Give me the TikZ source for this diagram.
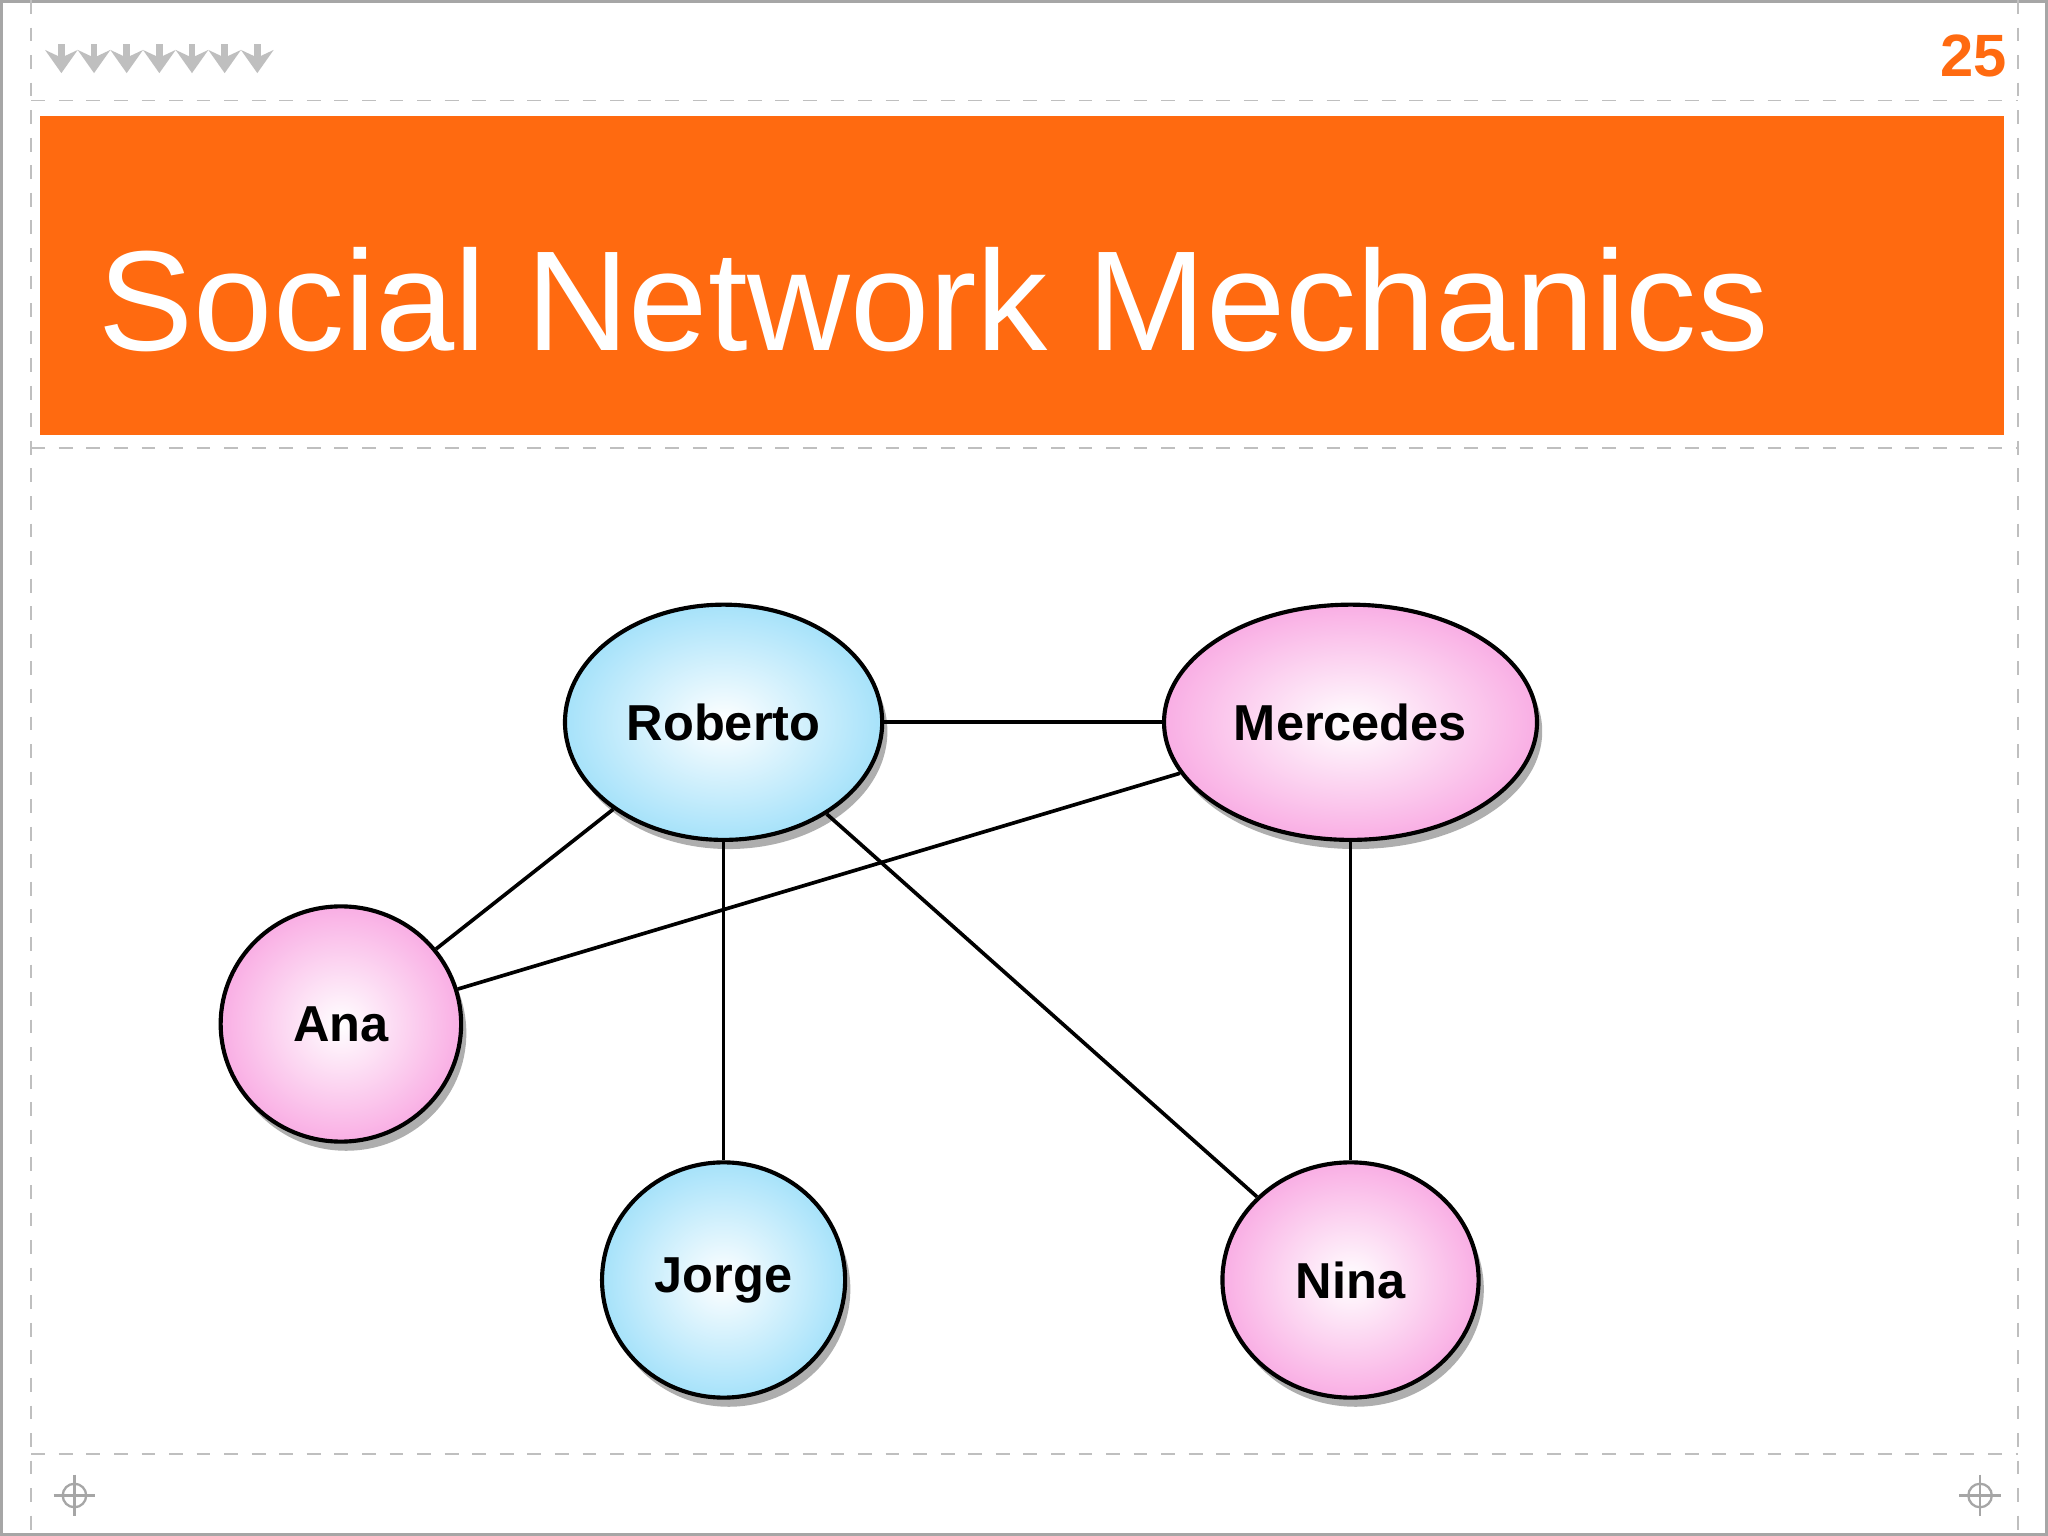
\documentclass[tikz,border=0pt]{standalone}
\usepackage{fontspec}
\setmainfont{Liberation Sans}
\usetikzlibrary{shapes.geometric,shadows,arrows.meta}
\definecolor{orng}{HTML}{FF6A10}
\definecolor{blu}{HTML}{A6E2FA}
\definecolor{pnk}{HTML}{F9AEE4}
\begin{document}
\begin{tikzpicture}[x=0.01cm,y=-0.01cm,
  person/.style={ellipse,draw=black,line width=0.9pt,minimum width=1.86cm,minimum height=1.80cm,
    font=\bfseries\fontsize{11}{13}\selectfont,
    drop shadow={shadow xshift=0.04cm,shadow yshift=-0.07cm,opacity=0.45,fill=black!70}},
  boy/.style={person,inner color=white,outer color=blu},
  girl/.style={person,inner color=white,outer color=pnk},
  dline/.style={gray!50,dashed,line width=0.4pt},
  edge/.style={line width=0.8pt}]
\useasboundingbox (0,0) rectangle (1568,1176);
\fill[white] (0,0) rectangle (1568,1176);
\draw[gray!70,line width=0.6pt] (1,1) rectangle (1567,1175);
\draw[dline] (24,77) -- (1545,77);
\draw[dline] (24,343) -- (1545,343);
\draw[dline] (24,1113) -- (1545,1113);
\draw[dline] (24,0) -- (24,1176);
\draw[dline] (1545,0) -- (1545,1176);
\foreach \x in {47,72,97,122,147,172,197}
  \draw[gray!50,line width=1.4pt,-{Stealth[length=5pt,width=7pt]}] (\x,34) -- (\x,56);
\node[text=orng,font=\bfseries\fontsize{13}{15}\selectfont] (num) at (1511,43) {25};
\fill[orng] (31,89) rectangle (1534,333);
\node[anchor=base west,text=white,font=\fontsize{31}{36}\selectfont,inner sep=0] (title) at (75,268) {Social Network Mechanics};
\foreach \x in {57,1516}{
  \draw[gray!70,line width=0.5pt] (\x,1145) circle (9);
  \draw[gray!70,line width=0.5pt] (\x-16,1145) -- (\x+16,1145) (\x,1129) -- (\x,1161);}
\node[boy,minimum width=1.86cm] (rob) at (554,553) {Roberto};
\node[girl,minimum width=1.96cm] (mer) at (1034,553) {Mercedes};
\node[girl,minimum width=1.84cm] (ana) at (261,784) {Ana};
\node[boy] (jor) at (554,980) {Jorge};
\node[girl,minimum width=1.96cm] (nin) at (1034,980) {Nina};
\draw[edge] (rob) -- (mer);
\draw[edge] (rob) -- (ana);
\draw[edge] (ana) -- (mer);
\draw[edge] (rob) -- (jor);
\draw[edge] (rob) -- (nin);
\draw[edge] (mer) -- (nin);
\end{tikzpicture}
\end{document}
